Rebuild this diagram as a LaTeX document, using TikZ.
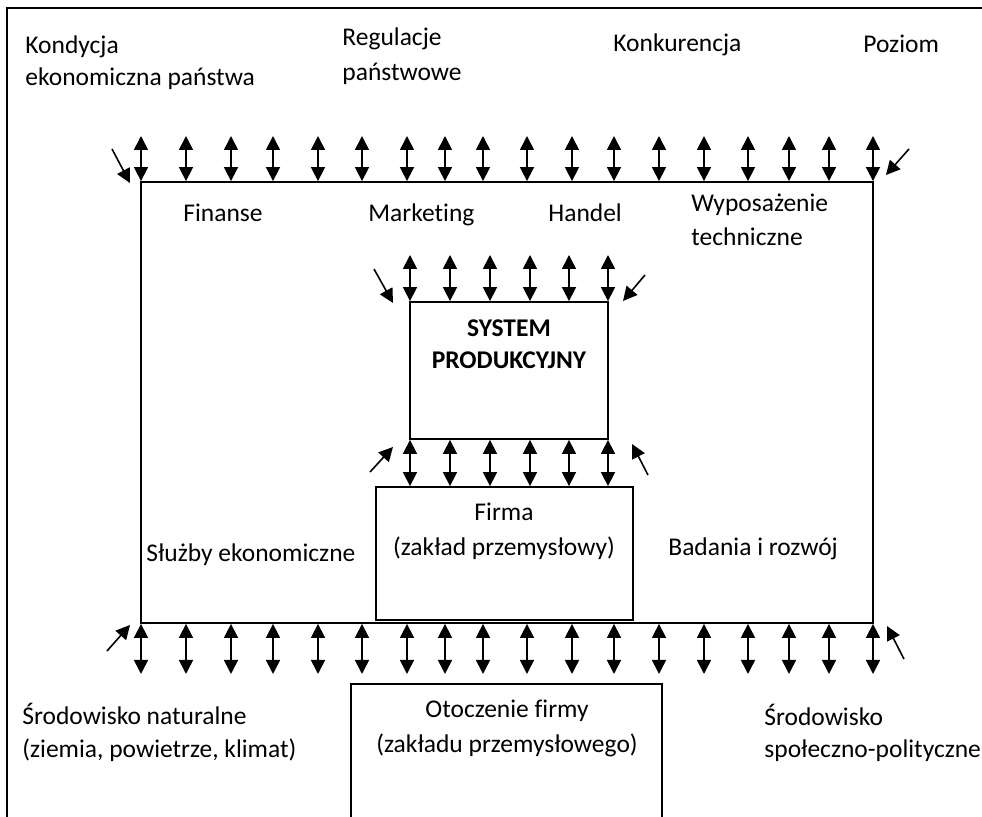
\documentclass[tikz,border=0pt]{standalone}
\usepackage{fontspec}
\setmainfont{Carlito}[Ligatures=NoCommon]
\usetikzlibrary{arrows.meta}
\tikzset{
  box/.style={draw, line width=0.9pt, inner sep=0pt},
  lbl/.style={anchor=base west, inner sep=0pt, font=\fontsize{12.75}{15}\selectfont},
  clbl/.style={lbl, anchor=base},
  biarrow/.style={line width=0.8pt, {Triangle[width=7pt,length=7pt]}-{Triangle[width=7pt,length=7pt]}},
  corner/.style={line width=0.8pt, -{Triangle[width=7pt,length=7pt]}}
}
\begin{document}
\begin{tikzpicture}[x=0.5pt,y=-0.5pt]
 \useasboundingbox (0,0) rectangle (982,817);
 \clip (0,0) rectangle (982,817);
 % frame
 \draw[line width=0.9pt] (7,830) -- (7,8) -- (990,8);
 % boxes
 \node[box, minimum width=366pt, minimum height=220.5pt] (env) at (507,402.5) {};
 \node[box, minimum width=99pt, minimum height=68.5pt] (sys) at (509,370.5) {};
 \node[box, minimum width=128.5pt, minimum height=66.5pt] (firm) at (504.5,553.5) {};
 \node[box, minimum width=155.5pt, minimum height=100pt, anchor=north] (oto) at (506.5,683) {};
 % arrows on the outer box
 \foreach \x [count=\i] in {141,186,231,273,318,362,407,445,483,527,572,614,659,704,748,789,829,873} {
  \coordinate (tu\i) at (\x,136);
  \coordinate (bd\i) at (\x,674);
  \draw[biarrow] (tu\i) -- (tu\i |- env.north);
  \draw[biarrow] (bd\i |- env.south) -- (bd\i);
 }
 % arrows on the production system
 \foreach \x [count=\i] in {410,450,490,530,569,608} {
  \coordinate (su\i) at (\x,255);
  \draw[biarrow] (su\i) -- (su\i |- sys.north);
  \draw[biarrow] (su\i |- sys.south) -- (su\i |- firm.north);
 }
 % corner arrows
 \foreach \a/\b/\c/\d [count=\i] in {112/149/130/183, 909/149/886/175, 107/651/130/625, 904/659/887/626,
   374/269/393/303, 645/275/623/301, 370/472/393/447, 648/475/632/444} {
  \coordinate (cs\i) at (\a,\b);
  \coordinate (ce\i) at (\c,\d);
  \draw[corner] (cs\i) -- (ce\i);
 }
 % labels
 \node[lbl] (kond1) at (25,54) {Kondycja};
 \node[lbl] (kond2) at (25,86) {ekonomiczna państwa};
 \node[lbl] (reg1) at (342,46) {Regulacje};
 \node[lbl] (reg2) at (342,81) {państwowe};
 \node[lbl] (konk) at (613,52) {Konkurencja};
 \node[lbl] (poz) at (863,53) {Poziom};
 \node[lbl] (fin) at (183,222) {Finanse};
 \node[lbl] (mark) at (368,222) {Market\kern0pt ing};
 \node[lbl] (hand) at (548,222) {Handel};
 \node[lbl] (wyp1) at (691,212) {Wyposażenie};
 \node[lbl] (wyp2) at (691,246) {techniczne};
 \node[clbl, font=\fontsize{12.75}{15}\selectfont\bfseries] (sys1) at (509,337) {SYSTEM};
 \node[clbl, font=\fontsize{12.75}{15}\selectfont\bfseries] (sys2) at (509,369) {PRODUKCYJNY};
 \node[clbl] (firm1) at (504,521) {Firma};
 \node[clbl] (firm2) at (504,556) {(zakład przemysłowy)};
 \node[lbl] (sluz) at (146,562) {Służby ekonomiczne};
 \node[lbl] (bad) at (668,556) {Badania i rozwój};
 \node[lbl] (srn1) at (22,725) {Środowisko naturalne};
 \node[lbl] (srn2) at (22,758) {(ziemia, powietrze, klimat)};
 \node[clbl] (oto1) at (507,718) {Otoczenie firmy};
 \node[clbl] (oto2) at (507,753) {(zakładu przemysłowego)};
 \node[lbl] (srs1) at (764,726) {Środowisko};
 \node[lbl] (srs2) at (764,758) {społeczno-polityczne};
\end{tikzpicture}
\end{document}
